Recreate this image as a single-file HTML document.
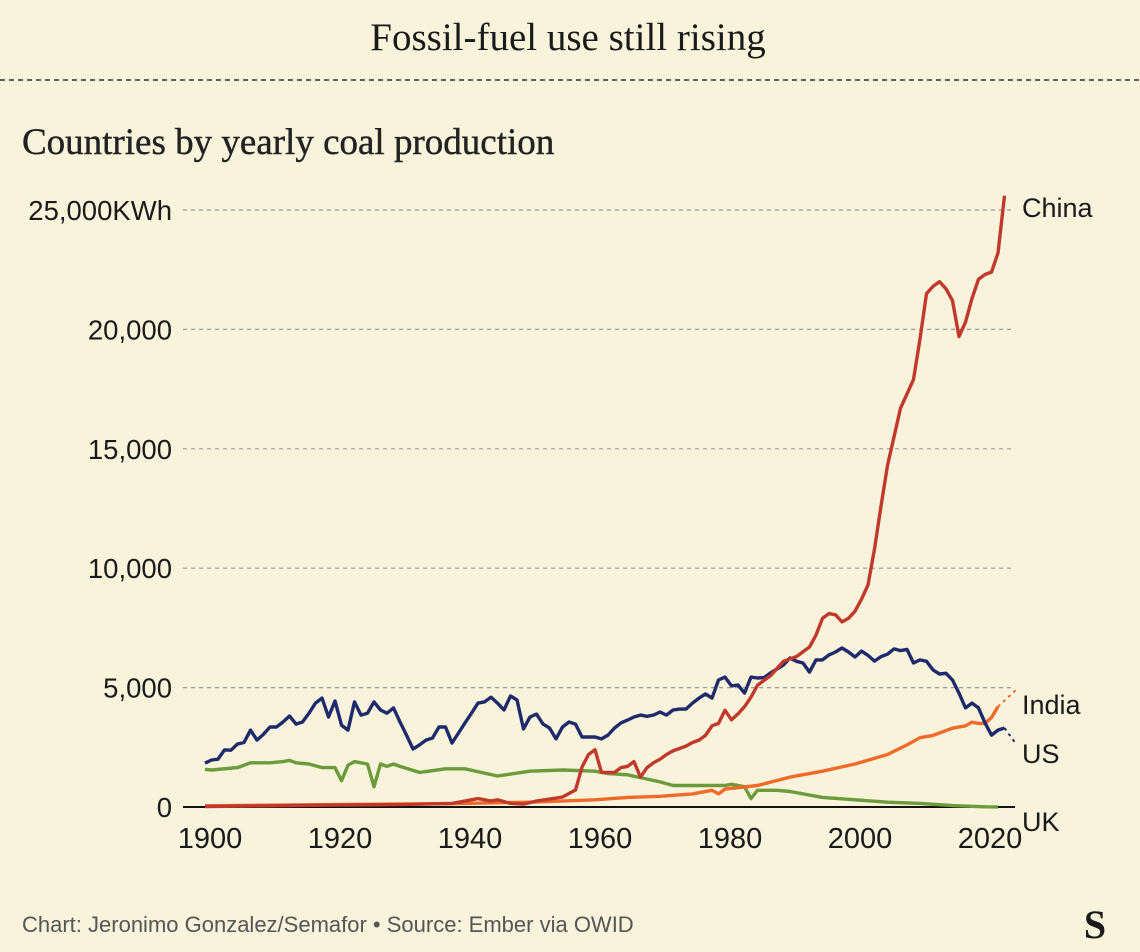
<!DOCTYPE html>
<html><head><meta charset="utf-8"><style>
html,body{margin:0;padding:0;background:#f8f3da;}
body{width:1140px;height:952px;overflow:hidden;position:relative;}
svg{position:absolute;left:0;top:0;}
</style></head><body>
<svg width="1140" height="952" xmlns="http://www.w3.org/2000/svg">
<text x="568" y="50" text-anchor="middle" font-family="Liberation Serif, serif" font-size="39" fill="#1a1a1a">Fossil-fuel use still rising</text>
<line x1="0" y1="80" x2="1140" y2="80" stroke="#333" stroke-width="1.5" stroke-dasharray="5,4"/>
<text x="22" y="154" font-family="Liberation Serif, serif" font-size="37" fill="#222" stroke="#222" stroke-width="0.4">Countries by yearly coal production</text>
<g id="grid"></g>
<g id="series"></g>
<g id="labels"></g>
<text x="22" y="932" font-family="Liberation Sans, sans-serif" font-size="22" fill="#555">Chart: Jeronimo Gonzalez/Semafor • Source: Ember via OWID</text>
<text x="1095" y="938" text-anchor="middle" font-family="Liberation Serif, serif" font-weight="bold" font-size="40" fill="#1a1a1a">S</text>
</svg>
<script>
const yTicks=[0,5000,10000,15000,20000,25000];
const yTickLabels=["0","5,000","10,000","15,000","20,000","25,000KWh"];
const xTicks=[1900,1920,1940,1960,1980,2000,2020];
const usYears=[];for(let y=1900;y<=2023;y++)usYears.push(y);
const usValues=[1840,1970,2000,2390,2380,2640,2700,3220,2800,3050,3350,3350,3560,3810,3470,3560,3930,4350,4560,3770,4440,3430,3220,4400,3850,3930,4400,4060,3930,4150,3560,3010,2430,2600,2800,2890,3350,3350,2680,3100,3520,3930,4350,4400,4600,4350,4060,4650,4480,3270,3770,3890,3470,3310,2850,3350,3560,3470,2930,2930,2930,2850,3010,3310,3520,3640,3770,3850,3800,3850,3980,3850,4060,4100,4100,4350,4560,4730,4560,5320,5440,5070,5110,4770,5440,5400,5420,5610,5780,5950,6240,6100,6030,5650,6160,6160,6370,6490,6660,6490,6280,6530,6350,6110,6300,6400,6620,6550,6600,6030,6160,6100,5740,5570,5600,5320,4770,4150,4350,4150,3520,3010,3220,3310];
const chinaYears=[1900,1910,1920,1930,1938,1941,1942,1944,1945,1947,1949,1951,1953,1955,1957,1958,1959,1960,1961,1962,1963,1964,1965,1966,1967,1968,1969,1970,1971,1972,1973,1974,1975,1976,1977,1978,1979,1980,1981,1982,1983,1984,1985,1986,1987,1988,1989,1990,1991,1992,1993,1994,1995,1996,1997,1998,1999,2000,2001,2002,2003,2004,2005,2006,2007,2008,2009,2010,2011,2012,2013,2014,2015,2016,2017,2018,2019,2020,2021,2022,2023];
const chinaValues=[20,50,80,100,150,300,350,250,300,150,120,250,330,420,710,1670,2200,2400,1450,1450,1450,1650,1700,1900,1250,1650,1850,2000,2200,2350,2450,2550,2700,2800,3000,3400,3500,4050,3650,3900,4200,4600,5100,5300,5500,5800,6100,6200,6300,6500,6700,7200,7900,8100,8050,7750,7900,8200,8700,9300,10800,12600,14300,15500,16700,17300,17900,19600,21500,21800,22000,21700,21200,19700,20300,21300,22100,22300,22400,23200,25600];
const indiaYears=[1900,1920,1940,1950,1960,1965,1970,1975,1978,1979,1980,1985,1990,1995,2000,2005,2008,2010,2012,2015,2017,2018,2019,2020,2021,2022];
const indiaValues=[50,100,150,200,300,400,450,550,700,550,750,900,1250,1500,1800,2200,2600,2900,3000,3300,3400,3550,3500,3500,3750,4200];
const ukYears=[1900,1901,1905,1907,1910,1912,1913,1914,1916,1918,1920,1921,1922,1923,1924,1925,1926,1927,1928,1929,1930,1933,1937,1940,1945,1950,1955,1960,1962,1965,1970,1972,1975,1980,1981,1983,1984,1985,1988,1990,1995,2000,2005,2010,2015,2020,2022];
const ukValues=[1580,1550,1650,1850,1850,1900,1950,1850,1800,1650,1650,1100,1750,1900,1850,1800,850,1800,1700,1800,1700,1450,1600,1600,1300,1500,1550,1500,1400,1350,1050,900,900,900,950,850,350,700,700,650,400,300,200,150,60,10,5];

const X=y=>205+(y-1900)*6.5;
const Y=v=>807-v/5000*119.4;
const NS="http://www.w3.org/2000/svg";
function mk(tag,attrs,parent){const e=document.createElementNS(NS,tag);for(const k in attrs)e.setAttribute(k,attrs[k]);parent.appendChild(e);return e;}
const grid=document.getElementById('grid'),ser=document.getElementById('series'),lab=document.getElementById('labels');
yTicks.forEach((t,i)=>{
 if(t>0){const l=mk('line',{x1:183,x2:1015,y1:Y(t),y2:Y(t),stroke:'#999',"stroke-width":1.2,"stroke-dasharray":"4,4"},grid);
 
 }
 const tx=mk('text',{x:172,y:Y(t)+10,"text-anchor":"end","font-family":"Liberation Sans, sans-serif","font-size":27.5,fill:'#1a1a1a'},lab);
 tx.textContent=yTickLabels[i];
 
 
});
xTicks.forEach(t=>{
 const tx=mk('text',{x:X(t)+5,y:848,"text-anchor":"middle","font-family":"Liberation Sans, sans-serif","font-size":29,fill:'#1a1a1a'},lab);
 tx.textContent=String(t);
 
 
});
const base=mk('line',{x1:183,x2:1015,y1:Y(0),y2:Y(0),stroke:'#111',"stroke-width":2},grid);


function series(years,vals,color,name,endLabel,ly,dot){
 const d=years.map((y,i)=>(i?'L':'M')+X(y).toFixed(1)+','+Y(vals[i]).toFixed(1)).join(' ');
 const p=mk('path',{d:d,fill:'none',stroke:color,"stroke-width":3.4,"stroke-linejoin":"round"},ser);
 
 
 const lx=X(years[years.length-1]),lyy=Y(vals[vals.length-1]);
 if(dot){const dl=mk('line',{x1:lx,y1:lyy,x2:1016,y2:dot,stroke:color,"stroke-width":2,"stroke-dasharray":"3,4"},ser);
 
 }
 const t=mk('text',{x:1022,y:ly,"font-family":"Liberation Sans, sans-serif","font-size":27,fill:'#1a1a1a'},lab);
 t.textContent=endLabel;
 
 
}
series(ukYears,ukValues,'#6b9b3a','uk','UK',831,null);
series(indiaYears,indiaValues,'#f26a2a','india','India',714,690);
series(usYears,usValues,'#1f2a6b','us','US',763,744);
series(chinaYears,chinaValues,'#c0392b','china','China',217,null);
</script>
</body></html>
